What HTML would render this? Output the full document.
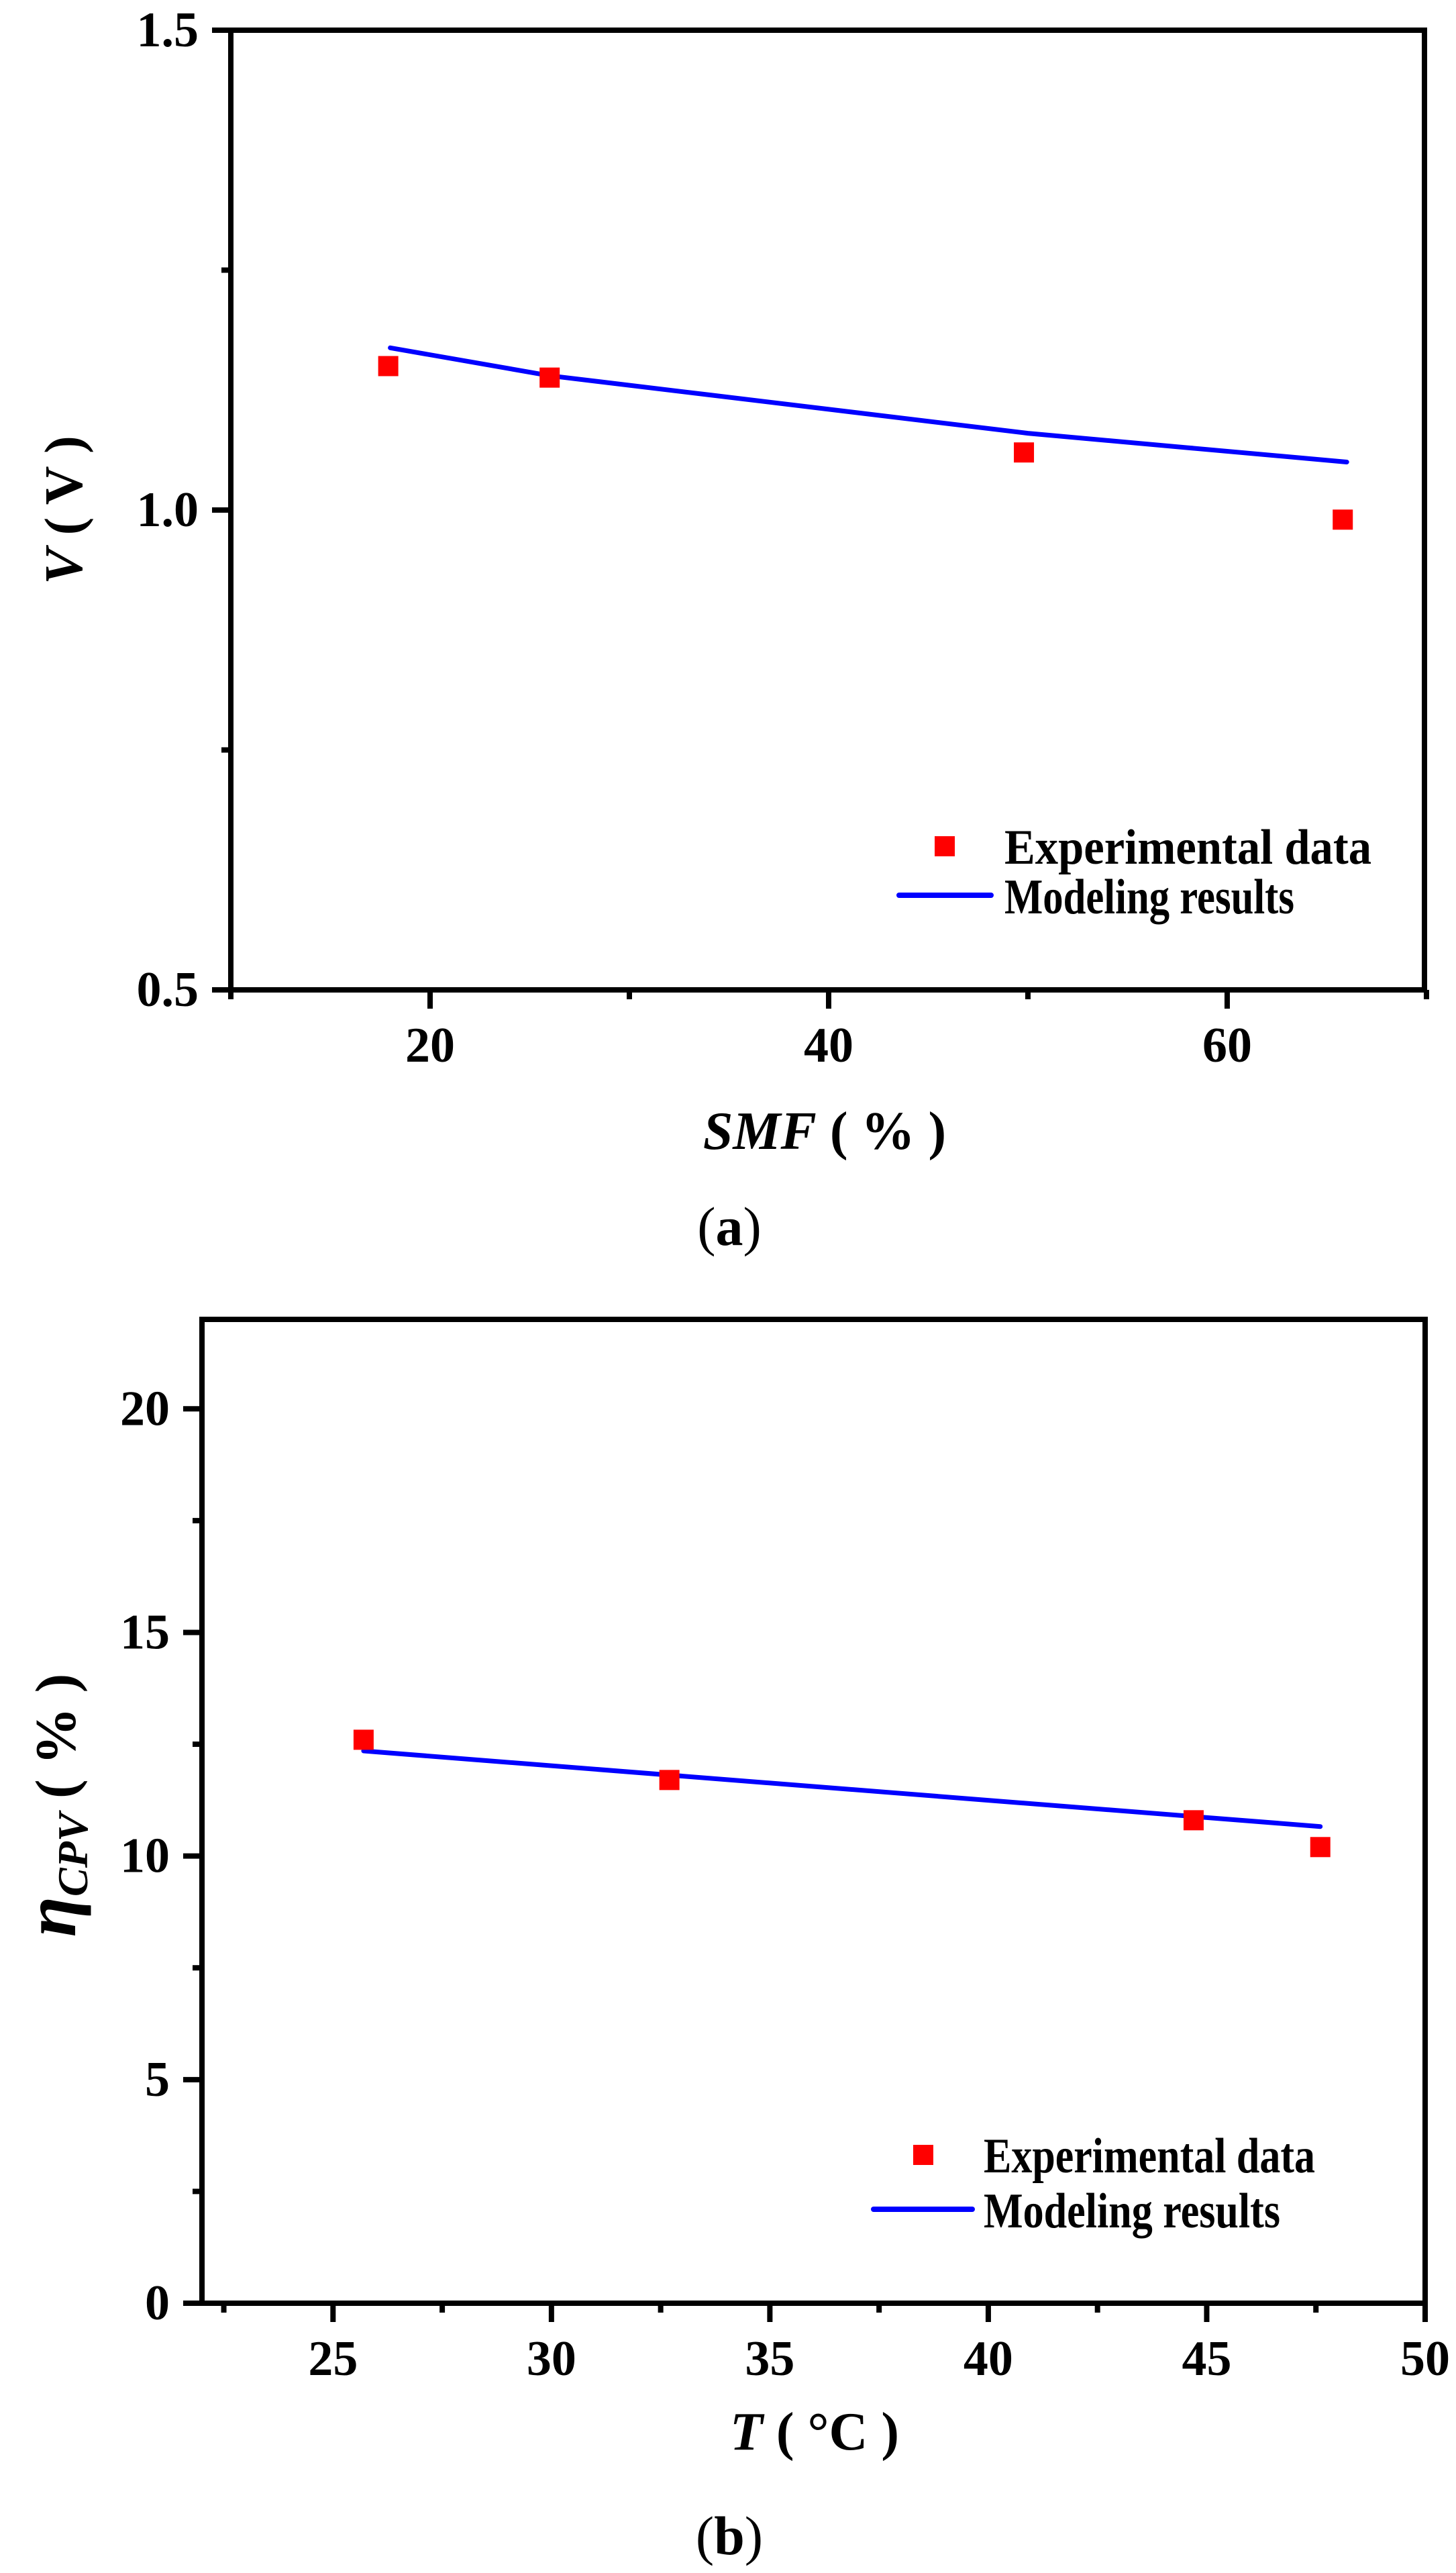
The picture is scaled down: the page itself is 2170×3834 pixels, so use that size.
<!DOCTYPE html>
<html><head><meta charset="utf-8">
<style>html,body{margin:0;padding:0;background:#fff;}svg{display:block;}</style>
</head><body>
<svg id="fig" width="2170" height="3834" viewBox="0 0 2170 3834" xmlns="http://www.w3.org/2000/svg" font-family="'Liberation Serif', serif">
<rect width="2170" height="3834" fill="#fff"/>
<g id="chartA"></g>
<g id="chartB"></g>
<text x="1087" y="1855" font-size="82" text-anchor="middle">(<tspan font-weight="bold">a</tspan>)</text>
<text x="1087" y="3806" font-size="82" text-anchor="middle">(<tspan font-weight="bold">b</tspan>)</text>
</svg>
<script>
// Chart A data
const aExpX = [17.9, 26.0, 49.8, 65.8];
const aExpY = [1.15, 1.138, 1.06, 0.99];
const aModX = [18, 26, 34, 42, 50, 58, 66];
const aModY = [1.169, 1.14, 1.12, 1.10, 1.08, 1.065, 1.05];
const aXTicks = [20, 40, 60];
const aXMinor = [10, 30, 50, 70];
const aYTicks = [0.5, 1.0, 1.5];
const aYLabels = ["0.5", "1.0", "1.5"];
const aYMinor = [0.75, 1.25];
// Chart B data
const bExpX = [25.7, 32.7, 44.7, 47.6];
const bExpY = [12.6, 11.7, 10.8, 10.2];
const bModX = [25.7, 47.6];
const bModY = [12.35, 10.66];
const bXTicks = [25, 30, 35, 40, 45, 50];
const bXMinor = [22.5, 27.5, 32.5, 37.5, 42.5, 47.5];
const bYTicks = [0, 5, 10, 15, 20];
const bYMinor = [2.5, 7.5, 12.5, 17.5];

const NS = "http://www.w3.org/2000/svg";
function mk(parent, tag, attrs, text) {
  const e = document.createElementNS(NS, tag);
  for (const k in attrs) e.setAttribute(k, attrs[k]);
  if (text !== undefined) e.textContent = text;
  parent.appendChild(e);
  return e;
}

function drawChart(g, cfg) {
  const sx = v => cfg.L + (v - cfg.x0) / (cfg.x1 - cfg.x0) * (cfg.R - cfg.L);
  const sy = v => cfg.B - (v - cfg.y0) / (cfg.y1 - cfg.y0) * (cfg.B - cfg.T);
  let d = "";
  cfg.modX.forEach((x, i) => { d += (i ? "L" : "M") + sx(x).toFixed(1) + "," + sy(cfg.modY[i]).toFixed(1); });
  const ln = mk(g, "path", {d: d, fill: "none", stroke: "#0000ff", "stroke-width": 7, "stroke-linecap": "round"});
  
  
  cfg.expX.forEach((x, i) => {
    const r = mk(g, "rect", {x: sx(x) - 15, y: sy(cfg.expY[i]) - 15, width: 30, height: 30, fill: "#ff0000"});
    
    
  });
  const fr = mk(g, "rect", {x: cfg.L, y: cfg.T, width: cfg.R - cfg.L, height: cfg.B - cfg.T, fill: "none", stroke: "#000", "stroke-width": 8});
  
  
  cfg.xTicks.forEach(v => {
    const x = sx(v);
    mk(g, "line", {x1: x, y1: cfg.B, x2: x, y2: cfg.B + 28, stroke: "#000", "stroke-width": 8});
    const t = mk(g, "text", {x: x, y: cfg.B + 107, "font-size": 74, "font-weight": "bold", "text-anchor": "middle"}, String(v));
    
    
  });
  cfg.xMinor.forEach(v => {
    const x = sx(v);
    mk(g, "line", {x1: x, y1: cfg.B, x2: x, y2: cfg.B + 14, stroke: "#000", "stroke-width": 8});
  });
  cfg.yTicks.forEach((v, i) => {
    const y = sy(v);
    mk(g, "line", {x1: cfg.L - 28, y1: y, x2: cfg.L, y2: y, stroke: "#000", "stroke-width": 8});
    const t = mk(g, "text", {x: cfg.L - 48, y: y + 24, "font-size": 74, "font-weight": "bold", "text-anchor": "end"}, cfg.yLabels ? cfg.yLabels[i] : String(v));
    
    
  });
  cfg.yMinor.forEach(v => {
    const y = sy(v);
    mk(g, "line", {x1: cfg.L - 14, y1: y, x2: cfg.L, y2: y, stroke: "#000", "stroke-width": 8});
  });
  const lg = mk(g, "g", {});
  
  
  mk(lg, "rect", {x: cfg.legSq[0] - 15, y: cfg.legSq[1] - 15, width: 30, height: 30, fill: "#ff0000"});
  mk(lg, "text", {x: cfg.legTx, y: cfg.legSq[1] + 26, "font-size": 74, "font-weight": "bold", textLength: cfg.legW[0], lengthAdjust: "spacingAndGlyphs"}, "Experimental data");
  mk(lg, "line", {x1: cfg.legLn[0], y1: cfg.legLn[2], x2: cfg.legLn[1], y2: cfg.legLn[2], stroke: "#0000ff", "stroke-width": 8, "stroke-linecap": "round"});
  mk(lg, "text", {x: cfg.legTx, y: cfg.legLn[2] + 27, "font-size": 74, "font-weight": "bold", textLength: cfg.legW[1], lengthAdjust: "spacingAndGlyphs"}, "Modeling results");
}

const gA = document.getElementById("chartA");
drawChart(gA, {L: 344, R: 2123, T: 45, B: 1475, x0: 10, x1: 69.9, y0: 0.5, y1: 1.5,
  expX: aExpX, expY: aExpY, modX: aModX, modY: aModY,
  xTicks: aXTicks, xMinor: aXMinor, yTicks: aYTicks, yLabels: aYLabels, yMinor: aYMinor,
  legSq: [1408, 1261], legTx: 1497, legLn: [1340, 1477, 1334], legW: [547, 432]});
const tA = mk(gA, "text", {x: 1229, y: 1712, "font-size": 80, "font-weight": "bold", "text-anchor": "middle"});
tA.innerHTML = '<tspan font-style="italic">SMF</tspan> ( % )';


const yA = mk(gA, "text", {x: 0, y: 0, "font-size": 80, "font-weight": "bold", "text-anchor": "middle", transform: "translate(122,760) rotate(-90)"});
yA.innerHTML = '<tspan font-style="italic">V</tspan> ( V )';



const gB = document.getElementById("chartB");
drawChart(gB, {L: 301, R: 2124, T: 1966, B: 3432, x0: 22, x1: 50, y0: 0, y1: 22,
  expX: bExpX, expY: bExpY, modX: bModX, modY: bModY,
  xTicks: bXTicks, xMinor: bXMinor, yTicks: bYTicks, yMinor: bYMinor,
  legSq: [1376, 3211], legTx: 1466, legLn: [1302, 1449, 3292], legW: [494, 442]});
const tB = mk(gB, "text", {x: 1214, y: 3650, "font-size": 80, "font-weight": "bold", "text-anchor": "middle"});
tB.innerHTML = '<tspan font-style="italic">T</tspan> ( °C )';


const yB = mk(gB, "text", {x: 0, y: 0, "font-size": 86, "font-weight": "bold", "text-anchor": "middle", transform: "translate(112,2690) rotate(-90)"});
yB.innerHTML = '<tspan font-style="italic" font-size="110">η</tspan><tspan font-style="italic" font-size="64" dy="18">CPV</tspan><tspan dy="-18"> ( % )</tspan>';


</script>
</body></html>
